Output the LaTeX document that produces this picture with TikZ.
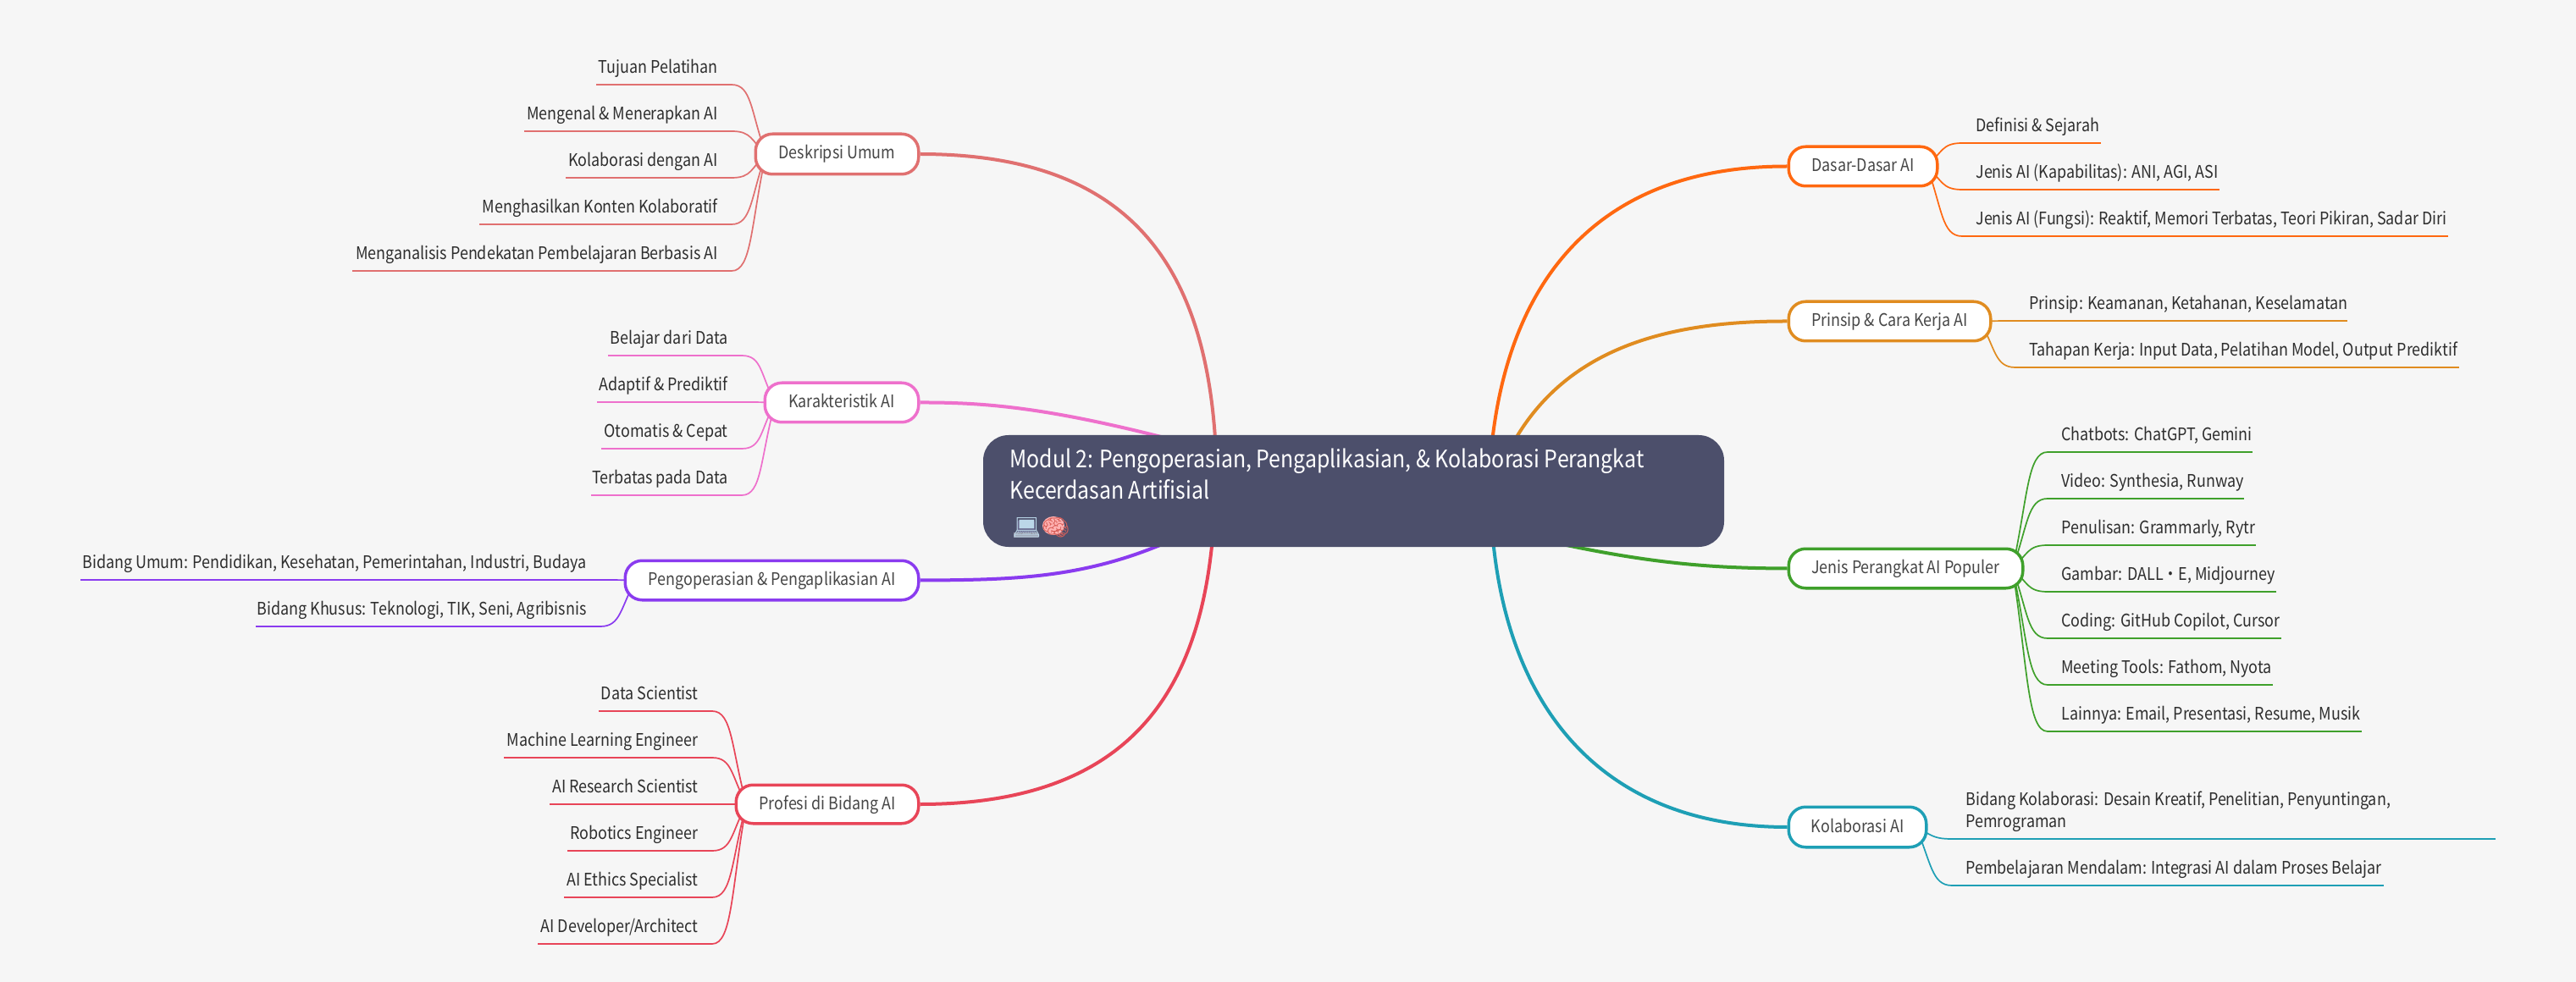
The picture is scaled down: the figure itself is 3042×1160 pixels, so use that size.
\documentclass[tikz,border=0pt]{standalone}
\usepackage{fontspec}
\usetikzlibrary{calc}
\setmainfont[FakeStretch=0.875]{Noto Sans CJK SC}
\newfontfamily\emojifont{Noto Emoji}
\definecolor{bgc}{HTML}{F6F6F6}
\definecolor{rootc}{HTML}{4C4F6B}
\definecolor{cdesk}{HTML}{E07070}
\definecolor{ckar}{HTML}{EE70CC}
\definecolor{cpeng}{HTML}{8A3BEF}
\definecolor{cprof}{HTML}{E84558}
\definecolor{cdas}{HTML}{FF6810}
\definecolor{cprin}{HTML}{E08C20}
\definecolor{cjen}{HTML}{3FA02B}
\definecolor{ckol}{HTML}{1E9FB5}
\pgfdeclarelayer{bg}\pgfdeclarelayer{edges}
\pgfsetlayers{bg,edges,main}
\tikzset{
  leaflabel/.style={inner sep=0pt,text=black!82,font=\fontsize{10.25pt}{13pt}\selectfont,align=left},
  topicbox/.style={draw=#1,fill=white,line width=1.75pt,rounded corners=10pt,inner sep=0pt,text=black!72,
    font=\fontsize{10.25pt}{13pt}\selectfont,text height=8pt,text depth=2pt},
  trunk/.style={draw=#1,line width=2pt},
  underline/.style={draw=#1,line width=1.1pt},
  twig/.style={draw=#1,line width=.85pt}
}
\newcommand\topicnode[7]{%
  \pgfmathsetmacro\tw{(#4-#2-2.5)*.5}\pgfmathsetmacro\th{(#5-#3-2.5)*.5}%
  \node[topicbox=#6,minimum width=\tw pt,minimum height=\th pt] (#1) at ({(#2+#4)/2},{(#3+#5)/2}) {#7};}
\newcommand\setparent[4]{\def\pn{#1}\def\pc{#2}\def\xc{#3}\def\sd{#4}%
  \ifnum#4=1 \def\leafanc{base east}\else\def\leafanc{base west}\fi}
\newcommand\leafitem[4]{%
  \node[leaflabel,anchor=\leafanc] (#1) at ({\xc-16*\sd},{#3-13.5}) {#4};
  \coordinate (#1-s) at (#2,#3);
  \coordinate (#1-c) at (\xc,#3);
  \begin{pgfonlayer}{edges}
  \draw[underline=\pc] (#1-s) -- (#1-c);
  \draw[twig=\pc] (#1-c) .. controls +({24*\sd},0) and ($($(\pn-in)!0.6!(\pn-in |- #1-c)$)+({-18*\sd},0)$) .. (\pn-in);
  \end{pgfonlayer}}
\begin{document}
\begin{tikzpicture}[x=.5pt,y=-.5pt]
\useasboundingbox (0,0) rectangle (3042,1160);
\begin{pgfonlayer}{bg}
\fill[bgc] (0,0) rectangle (3042,1160);
\end{pgfonlayer}
\node[fill=rootc,rounded corners=15pt,minimum width=437.5pt,minimum height=66pt,inner sep=0pt] (root) at (1598.5,580) {};
\node[anchor=base west,inner sep=0pt,text=white,font=\fontsize{14.2pt}{18.5pt}\selectfont,align=left] (roottext) at (1192,589)
  {Modul 2: Pengoperasian, Pengaplikasian, \& Kolaborasi Perangkat\\Kecerdasan Artifisial};
% colour behind the emoji glyphs
\fill[rounded corners=1pt,fill=black!75!blue!60!white] (1201,615) rectangle (1222,629);
\fill[fill=white!80!blue!30!gray] (1197,629) rectangle (1226,635);
\fill[fill=red!30!white] (1244,621) ellipse (13 and 11);
\node[anchor=base west,inner sep=0pt,font=\fontsize{13.5pt}{18.5pt}\emojifont] (rootemoji) at (1195,632)
  {\textcolor[HTML]{BBD6E8}{💻}\textcolor[HTML]{D9605A}{🧠}};
\topicnode{desk}{891}{157}{1086}{207}{cdesk}{Deskripsi Umum}
\topicnode{kar}{902}{451}{1086}{500}{ckar}{Karakteristik AI}
\topicnode{peng}{737}{661}{1086}{710}{cpeng}{Pengoperasian \& Pengaplikasian AI}
\topicnode{prof}{868}{926}{1086}{974}{cprof}{Profesi di Bidang AI}
\topicnode{das}{2111}{172}{2289}{221}{cdas}{Dasar-Dasar AI}
\topicnode{prin}{2111}{355}{2352}{404}{cprin}{Prinsip \& Cara Kerja AI}
\topicnode{jen}{2111}{647}{2390}{696}{cjen}{Jenis Perangkat AI Populer}
\topicnode{kol}{2111}{952}{2276}{1002}{ckol}{Kolaborasi AI}
\foreach \n in {desk,kar,peng,prof}{\coordinate (\n-in) at ($(\n.west)+(14,0)$);}
\foreach \n in {das,prin,jen,kol}{\coordinate (\n-in) at ($(\n.east)+(-14,0)$);}
\coordinate (rootp) at (1440,610);
\coordinate (rootr) at (1762,580);
\begin{pgfonlayer}{edges}
\draw[trunk=cdesk] (desk.east) .. controls (1350,182) and (1437,330) .. (root.center -| 1437,0);
\draw[trunk=ckar] (kar.east) .. controls (1200,475) and (1300,490) .. (root.center);
\draw[trunk=cpeng] (peng.east) .. controls (1220,685) and (1310,682) .. (rootp);
\draw[trunk=cprof] (prof.east) .. controls (1350,950) and (1430,800) .. (root.center -| 1435,0);
\draw[trunk=cdas] (das.west) .. controls (1880,196) and (1765,340) .. (root.center -| 1758,0);
\draw[trunk=cprin] (prin.west) .. controls (1950,379) and (1815,420) .. (rootr);
\draw[trunk=cjen] (jen.west) .. controls (1980,671) and (1880,660) .. (root.center);
\draw[trunk=ckol] (kol.west) .. controls (1880,977) and (1763,820) .. (root.center -| 1760,0);
\end{pgfonlayer}
\setparent{desk}{cdesk}{864}{1}
\leafitem{d1}{704}{100}{Tujuan Pelatihan}
\leafitem{d2}{619}{155}{Mengenal \& Menerapkan AI}
\leafitem{d3}{668}{210}{Kolaborasi dengan AI}
\leafitem{d4}{566}{265}{Menghasilkan Konten Kolaboratif}
\leafitem{d5}{416}{320}{Menganalisis Pendekatan Pembelajaran Berbasis AI}
\setparent{kar}{ckar}{876}{1}
\leafitem{k1}{718}{420}{Belajar dari Data}
\leafitem{k2}{705}{475}{Adaptif \& Prediktif}
\leafitem{k3}{710}{530}{Otomatis \& Cepat}
\leafitem{k4}{698}{585}{Terbatas pada Data}
\setparent{peng}{cpeng}{709}{1}
\leafitem{p1}{95}{685}{Bidang Umum: Pendidikan, Kesehatan, Pemerintahan, Industri, Budaya}
\leafitem{p2}{302}{740}{Bidang Khusus: Teknologi, TIK, Seni, Agribisnis}
\setparent{prof}{cprof}{841}{1}
\leafitem{f1}{707}{840}{Data Scientist}
\leafitem{f2}{595}{895}{Machine Learning Engineer}
\leafitem{f3}{649}{950}{AI Research Scientist}
\leafitem{f4}{670}{1005}{Robotics Engineer}
\leafitem{f5}{666}{1060}{AI Ethics Specialist}
\leafitem{f6}{635}{1115}{AI Developer/Architect}
\setparent{das}{cdas}{2317}{-1}
\leafitem{a1}{2481}{169}{Definisi \& Sejarah}
\leafitem{a2}{2621}{224}{Jenis AI (Kapabilitas): ANI, AGI, ASI}
\leafitem{a3}{2891}{279}{Jenis AI (Fungsi): Reaktif, Memori Terbatas, Teori Pikiran, Sadar Diri}
\setparent{prin}{cprin}{2380}{-1}
\leafitem{r1}{2772}{379}{Prinsip: Keamanan, Ketahanan, Keselamatan}
\leafitem{r2}{2904}{434}{Tahapan Kerja: Input Data, Pelatihan Model, Output Prediktif}
\setparent{jen}{cjen}{2418}{-1}
\leafitem{j1}{2660}{534}{Chatbots: ChatGPT, Gemini}
\leafitem{j2}{2650}{589}{Video: Synthesia, Runway}
\leafitem{j3}{2664}{644}{Penulisan: Grammarly, Rytr}
\leafitem{j4}{2688}{699}{Gambar: DALL・E, Midjourney}
\leafitem{j5}{2694}{754}{Coding: GitHub Copilot, Cursor}
\leafitem{j6}{2684}{809}{Meeting Tools: Fathom, Nyota}
\leafitem{j7}{2789}{864}{Lainnya: Email, Presentasi, Resume, Musik}
\setparent{kol}{ckol}{2305}{-1}
\leafitem{o1}{2947}{991}{Bidang Kolaborasi: Desain Kreatif, Penelitian, Penyuntingan,\\Pemrograman}
\leafitem{o2}{2815}{1046}{Pembelajaran Mendalam: Integrasi AI dalam Proses Belajar}
\end{tikzpicture}
\end{document}
